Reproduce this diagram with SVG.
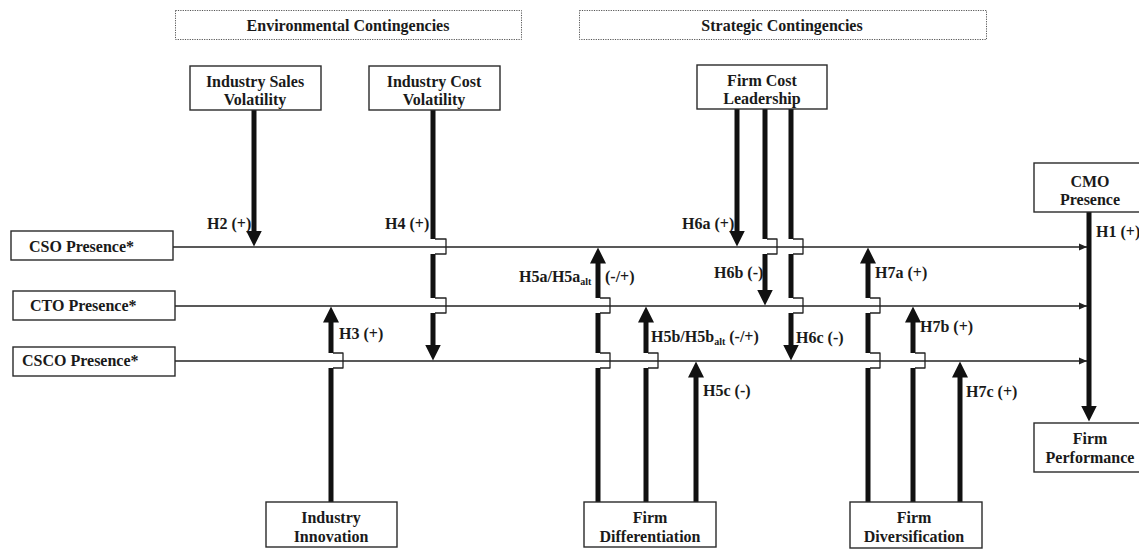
<svg xmlns="http://www.w3.org/2000/svg" width="1139" height="549" viewBox="0 0 1139 549">
<style>
.box{fill:#fff;stroke:#2a2a2a;stroke-width:1.4}
.group{fill:none;stroke:#555;stroke-width:1;stroke-dasharray:1.2 1.2}
text{font-family:"Liberation Serif","Times New Roman",serif;font-weight:bold;font-size:16px;fill:#1a1a1a}
.c{text-anchor:middle}
.sub{font-size:10px}
.hl{fill:none;stroke:#222;stroke-width:1.3}
.thick{fill:none;stroke:#111;stroke-width:5}
.hop{fill:none;stroke:#222;stroke-width:1.3;stroke-linejoin:round}
</style>
<defs>
<marker id="ah" markerUnits="userSpaceOnUse" viewBox="0 0 16 16" markerWidth="16" markerHeight="16" refX="0.5" refY="8" orient="auto">
<path d="M0,0 L16,8 L0,16 z" fill="#111"/>
</marker>
<marker id="sm" markerUnits="userSpaceOnUse" viewBox="0 0 8 8" markerWidth="8" markerHeight="8" refX="8" refY="4" orient="auto">
<path d="M0,0.5 L8,4 L0,7.5 z" fill="#222"/>
</marker>
</defs>

<g id="env-contingencies">
<rect class="group" x="175.5" y="10.5" width="346" height="29"/>
<text class="c" x="348" y="31">Environmental Contingencies</text>
</g>
<g id="strat-contingencies">
<rect class="group" x="579.5" y="10.5" width="407" height="29"/>
<text class="c" x="782" y="31">Strategic Contingencies</text>
</g>

<g id="connectors">
<path class="hl" d="M173,247 H1087" marker-end="url(#sm)"/>
<path class="hl" d="M175,306 H1087" marker-end="url(#sm)"/>
<path class="hl" d="M175,361 H1087" marker-end="url(#sm)"/>

<path class="thick" d="M254,110 V231" marker-end="url(#ah)"/>
<path class="thick" d="M433,110 V239 M433,254 V298 M433,313 V345" marker-end="url(#ah)"/>
<path class="thick" d="M331,502 V368 M331,353 V322" marker-end="url(#ah)"/>
<path class="thick" d="M598,502 V368 M598,353 V313 M598,298 V263" marker-end="url(#ah)"/>
<path class="thick" d="M646,502 V368 M646,353 V322" marker-end="url(#ah)"/>
<path class="thick" d="M696,502 V377" marker-end="url(#ah)"/>
<path class="thick" d="M737,109 V231" marker-end="url(#ah)"/>
<path class="thick" d="M765,109 V239 M765,254 V290" marker-end="url(#ah)"/>
<path class="thick" d="M791,109 V239 M791,254 V298 M791,313 V345" marker-end="url(#ah)"/>
<path class="thick" d="M868,502 V368 M868,353 V313 M868,298 V263" marker-end="url(#ah)"/>
<path class="thick" d="M913,502 V368 M913,353 V322" marker-end="url(#ah)"/>
<path class="thick" d="M960,502 V377" marker-end="url(#ah)"/>
<path class="thick" d="M1089,212 V406" marker-end="url(#ah)"/>

<path class="hop" d="M435,239 H446 V254 H435"/>
<path class="hop" d="M435,298 H446 V313 H435"/>
<path class="hop" d="M333,353 H343 V368 H333"/>
<path class="hop" d="M600,298 H610 V313 H600"/>
<path class="hop" d="M600,353 H610 V368 H600"/>
<path class="hop" d="M648,353 H658 V368 H648"/>
<path class="hop" d="M767,239 H777 V254 H767"/>
<path class="hop" d="M793,239 H803 V254 H793"/>
<path class="hop" d="M793,298 H803 V313 H793"/>
<path class="hop" d="M870,298 H880 V313 H870"/>
<path class="hop" d="M870,353 H880 V368 H870"/>
<path class="hop" d="M915,353 H925 V368 H915"/>

<text x="207" y="229">H2 (+)</text>
<text x="385" y="229">H4 (+)</text>
<text x="682" y="229">H6a (+)</text>
<text x="1096" y="237">H1 (+)</text>
<text x="519" y="282">H5a/H5a<tspan class="sub" dy="3">alt</tspan><tspan dy="-3" x="605">(-/+)</tspan></text>
<text x="714" y="278">H6b (-)</text>
<text x="875" y="278">H7a (+)</text>
<text x="339" y="339">H3 (+)</text>
<text x="651" y="342">H5b/H5b<tspan class="sub" dy="3">alt</tspan><tspan dy="-3"> (-/+)</tspan></text>
<text x="796" y="343">H6c (-)</text>
<text x="920" y="332">H7b (+)</text>
<text x="703" y="396">H5c (-)</text>
<text x="966" y="397">H7c (+)</text>
</g>

<g id="n-sales-vol">
<rect class="box" x="190" y="66" width="131" height="44"/>
<text class="c" x="255" y="87">Industry Sales</text>
<text class="c" x="255" y="105">Volatility</text>
</g>
<g id="n-cost-vol">
<rect class="box" x="369" y="66" width="131" height="44"/>
<text class="c" x="434" y="87">Industry Cost</text>
<text class="c" x="434" y="105">Volatility</text>
</g>
<g id="n-cost-lead">
<rect class="box" x="697" y="65" width="130" height="44"/>
<text class="c" x="762" y="86">Firm Cost</text>
<text class="c" x="762" y="104">Leadership</text>
</g>
<g id="n-cso">
<rect class="box" x="11" y="231" width="162" height="29"/>
<text x="29" y="252">CSO Presence*</text>
</g>
<g id="n-cto">
<rect class="box" x="13" y="291" width="162" height="29"/>
<text x="30" y="311">CTO Presence*</text>
</g>
<g id="n-csco">
<rect class="box" x="13" y="347" width="162" height="29"/>
<text x="22" y="366">CSCO Presence*</text>
</g>
<g id="n-cmo">
<rect class="box" x="1034" y="163" width="112" height="49"/>
<text class="c" x="1090" y="187">CMO</text>
<text class="c" x="1090" y="205">Presence</text>
</g>
<g id="n-perf">
<rect class="box" x="1034" y="423" width="112" height="49"/>
<text class="c" x="1090" y="444">Firm</text>
<text class="c" x="1090" y="463">Performance</text>
</g>
<g id="n-innov">
<rect class="box" x="266" y="502" width="131" height="45"/>
<text class="c" x="331" y="523">Industry</text>
<text class="c" x="331" y="542">Innovation</text>
</g>
<g id="n-diff">
<rect class="box" x="584" y="502" width="132" height="45"/>
<text class="c" x="650" y="523">Firm</text>
<text class="c" x="650" y="542">Differentiation</text>
</g>
<g id="n-div">
<rect class="box" x="850" y="502" width="132" height="46"/>
<text class="c" x="914" y="523">Firm</text>
<text class="c" x="914" y="542">Diversification</text>
</g>
</svg>
